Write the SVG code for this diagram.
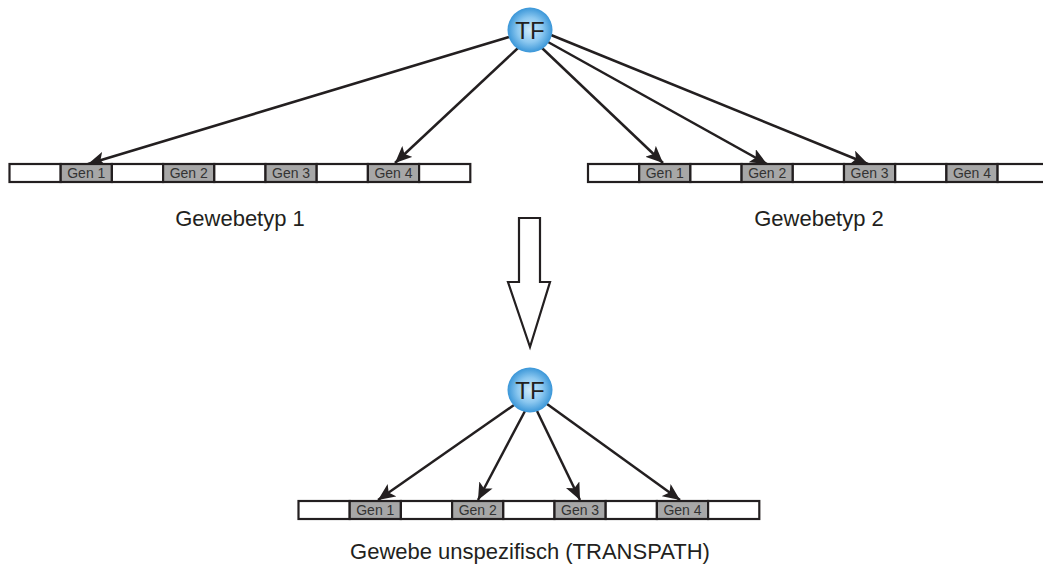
<svg xmlns="http://www.w3.org/2000/svg" width="1043" height="565" viewBox="0 0 1043 565">
  <style>
    .seg { fill: #ffffff; stroke: #231f20; stroke-width: 2.2; }
    .gen { fill: #a7a7a7; stroke: #231f20; stroke-width: 2.2; }
    .gtxt { font-family: "Liberation Sans", Arial, sans-serif; font-size: 14px; fill: #333333; text-anchor: middle; }
    .lbl { font-family: "Liberation Sans", Arial, sans-serif; font-size: 22px; fill: #231f20; text-anchor: middle; }
    .tf { font-family: "Liberation Sans", Arial, sans-serif; font-size: 24px; fill: #231f20; text-anchor: middle; }
    .edge { stroke: #231f20; stroke-width: 2.5; fill: none; marker-end: url(#head); }
  </style>
  <defs>
    <radialGradient id="ball" cx="50%" cy="50%" r="50%">
      <stop offset="0" stop-color="#cfeafb"/>
      <stop offset="0.55" stop-color="#8cc8f0"/>
      <stop offset="1" stop-color="#3a96d8"/>
    </radialGradient>
    <marker id="head" markerUnits="userSpaceOnUse" markerWidth="19" markerHeight="15" refX="17" refY="7.5" orient="auto">
      <path d="M0,0 L17,7.5 L0,15 L4,7.5 Z" fill="#231f20"/>
    </marker>
    <!-- one gene strip: nine segments, genes in the even slots -->
    <g id="strip">
      <rect class="seg" x="0" y="0" width="51.2" height="18"/>
      <rect class="gen" x="51.2" y="0" width="51.2" height="18"/>
      <rect class="seg" x="102.4" y="0" width="51.2" height="18"/>
      <rect class="gen" x="153.6" y="0" width="51.2" height="18"/>
      <rect class="seg" x="204.8" y="0" width="51.2" height="18"/>
      <rect class="gen" x="256" y="0" width="51.2" height="18"/>
      <rect class="seg" x="307.2" y="0" width="51.2" height="18"/>
      <rect class="gen" x="358.4" y="0" width="51.2" height="18"/>
      <rect class="seg" x="409.6" y="0" width="51.2" height="18"/>
      <text class="gtxt" x="76.8" y="14">Gen 1</text>
      <text class="gtxt" x="179.2" y="14">Gen 2</text>
      <text class="gtxt" x="281.6" y="14">Gen 3</text>
      <text class="gtxt" x="384" y="14">Gen 4</text>
    </g>
  </defs>

  <g id="connectors">
    <line class="edge" x1="509" y1="37" x2="88" y2="164"/>
    <line class="edge" x1="518" y1="48" x2="395" y2="163"/>
    <line class="edge" x1="542" y1="48" x2="663" y2="163"/>
    <line class="edge" x1="548" y1="42" x2="767" y2="164"/>
    <line class="edge" x1="551" y1="35" x2="868" y2="164"/>
    <line class="edge" x1="514" y1="405" x2="378" y2="500"/>
    <line class="edge" x1="525" y1="411" x2="478" y2="500"/>
    <line class="edge" x1="537" y1="411" x2="580" y2="500"/>
    <line class="edge" x1="547" y1="404" x2="680" y2="500"/>
  </g>

  <g id="tf-top">
    <circle cx="530" cy="30" r="22.5" fill="url(#ball)"/>
    <text class="tf" x="530" y="38.5">TF</text>
  </g>
  <g id="tf-bottom">
    <circle cx="530" cy="390" r="22.5" fill="url(#ball)"/>
    <text class="tf" x="530" y="398.5">TF</text>
  </g>

  <g id="strip-tissue1">
    <use href="#strip" x="9.5" y="164"/>
    <text class="lbl" x="240" y="226">Gewebetyp 1</text>
  </g>
  <g id="strip-tissue2">
    <use href="#strip" x="588" y="164"/>
    <text class="lbl" x="819" y="226">Gewebetyp 2</text>
  </g>
  <g id="strip-unspecific">
    <use href="#strip" x="298.5" y="501"/>
    <text class="lbl" x="530" y="559">Gewebe unspezifisch (TRANSPATH)</text>
  </g>

  <g id="transition-arrow">
    <path d="M519,218 L540,218 L540,282 L550,282 L530,347 L508,282 L519,282 Z" fill="#ffffff" stroke="#231f20" stroke-width="2.2" stroke-linejoin="miter"/>
  </g>
</svg>
